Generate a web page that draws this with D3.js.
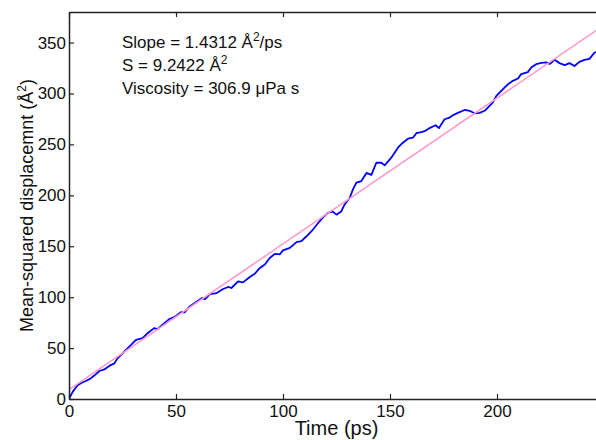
<!DOCTYPE html>
<html>
<head>
<meta charset="utf-8">
<script src="https://cdn.jsdelivr.net/npm/d3@7"></script>
<style>
  body { margin: 0; background: #fff; }
  svg { display: block; font-family: "Liberation Sans", Arial, Helvetica, sans-serif; }
</style>
</head>
<body>
<svg id="chart"></svg>
<script>
// time (ps) and MSD (A^2)
const timePs = [0, 1.7, 4, 6, 7.9, 10, 11.8, 14.2, 16.5, 18.8, 21.2, 22.7, 25.8, 28.9, 31.3, 34.4, 36.7, 39.8, 41.4, 43.7,
  46.8, 49.2, 52.3, 54, 56.2, 59.3, 62, 63.6, 65.8, 69, 72, 74.4, 75.9, 79, 81.3, 84.5, 86.8, 89.2, 91.5, 93.8,
  96.2, 98.5, 100, 103.2, 106.3, 108.6, 111, 114, 116.9, 119, 121, 123.3, 125, 127.3, 128.8, 131.2, 132.7, 134.3, 136.6, 139,
  141.3, 143.6, 146, 147.5, 150.6, 153.7, 156, 158.4, 160.7, 162.3, 164.6, 166.2, 168.5, 171.3, 172.9, 175.5, 177.5, 179.4, 181.7, 184.9,
  187.2, 189.5, 191.9, 194.2, 196.5, 198, 199.7, 202, 203.6, 205.1, 207.4, 209.8, 211.3, 214.4, 216, 218.3, 220.7, 223, 224.6, 226.9,
  229.2, 231.6, 233.9, 236.2, 238.5, 240.9, 243.2, 245.5, 248];
const msd = [0, 7, 13.5, 16, 17.7, 20, 23, 27.5, 29, 32.5, 35, 40, 46.5, 53, 58, 59.7, 64.6, 69.6, 68.6, 72.9,
  78.4, 80.4, 85.3, 85, 90.5, 95, 99, 98, 103, 104, 108, 110, 109, 115.5, 114.5, 119.8, 123, 128.7, 132, 138.5,
  142.5, 142, 146, 148.4, 154, 155, 159.8, 166.4, 174, 179, 182.7, 184, 181, 184.4, 191, 197.6, 205.8, 212.4, 214, 222,
  220, 232, 232, 229.4, 237, 246.8, 251.7, 255.6, 256.6, 261, 262, 263, 266, 268.8, 266, 274.7, 276, 278.6, 281, 283.8,
  283, 280.6, 281, 283, 287.8, 291, 297.6, 302.5, 306, 309, 312.4, 314.7, 319, 321, 325.5, 328.8, 330, 330.5, 329, 333,
  329.8, 327.8, 329.8, 327, 331, 333, 334, 340, 342];

const slope = 1.4312;
const intercept = 9.2422;
const viscosity = 306.9;

const xTicks = [0, 50, 100, 150, 200];
const yTicks = [0, 50, 100, 150, 200, 250, 300, 350];

const W = 596, H = 440;
const M = { left: 69, top: 12, right: 604, bottom: 399 };

const svg = d3.select("#chart").attr("width", W).attr("height", H);

const x = d3.scaleLinear().domain([0, 250]).range([M.left, M.right]);
const y = d3.scaleLinear().domain([0, 380]).range([M.bottom, M.top]);

svg.append("clipPath").attr("id", "clip")
  .append("rect")
  .attr("x", M.left).attr("y", M.top)
  .attr("width", M.right - M.left).attr("height", M.bottom - M.top);

const data = timePs.map((t, i) => ({ t: t, v: msd[i] }));

const line = d3.line().x(d => x(d.t)).y(d => y(d.v));

svg.append("path")
  .datum(data)
  .attr("clip-path", "url(#clip)")
  .attr("fill", "none")
  .attr("stroke", "#0000ff")
  .attr("stroke-width", 1.8)
  .attr("stroke-linejoin", "round")
  .attr("d", line);

// linear fit
const fit = [0, 250].map(t => ({ t: t, v: slope * t + intercept }));
svg.append("path")
  .datum(fit)
  .attr("clip-path", "url(#clip)")
  .attr("fill", "none")
  .attr("stroke", "#ff99cc")
  .attr("stroke-width", 1.5)
  .attr("d", line);

/* axes, matlab style box with inward ticks */
const axisColor = "#222";

svg.append("g")
  .attr("transform", `translate(0, ${M.bottom})`)
  .call(d3.axisBottom(x).tickValues(xTicks).tickSizeInner(-5).tickSizeOuter(0).tickPadding(6))
  .call(g => g.select(".domain").attr("stroke", axisColor).attr("stroke-width", 1.5))
  .call(g => g.selectAll(".tick line").attr("stroke", axisColor).attr("stroke-width", 1.2))
  .call(g => g.selectAll(".tick text").attr("font-size", 17).attr("fill", "#111").attr("font-family", null));

svg.append("g")
  .attr("transform", `translate(0, ${M.top})`)
  .call(d3.axisTop(x).tickValues(xTicks).tickSizeInner(-5).tickSizeOuter(0).tickFormat(""))
  .call(g => g.select(".domain").attr("stroke", axisColor).attr("stroke-width", 1.5))
  .call(g => g.selectAll(".tick line").attr("stroke", axisColor).attr("stroke-width", 1.2));

svg.append("g")
  .attr("transform", `translate(${M.left}, 0)`)
  .call(d3.axisLeft(y).tickValues(yTicks).tickSizeInner(-5).tickSizeOuter(0).tickPadding(3))
  .call(g => g.select(".domain").attr("stroke", axisColor).attr("stroke-width", 1.5))
  .call(g => g.selectAll(".tick line").attr("stroke", axisColor).attr("stroke-width", 1.2))
  .call(g => g.selectAll(".tick text").attr("font-size", 17).attr("fill", "#111").attr("font-family", null));

/* axis titles */
svg.append("text")
  .attr("x", (M.left + M.right) / 2)
  .attr("y", 435)
  .attr("text-anchor", "middle")
  .attr("font-size", 20)
  .attr("fill", "#111")
  .text("Time (ps)");

const yl = svg.append("text")
  .attr("transform", `translate(33, ${(M.top + M.bottom) / 2}) rotate(-90)`)
  .attr("text-anchor", "middle")
  .attr("font-size", 18)
  .attr("fill", "#111");
yl.append("tspan").text("Mean-squared displacemnt (Å");
yl.append("tspan").attr("dy", -7).attr("font-size", 12).text("2");
yl.append("tspan").attr("dy", 7).text(")");

/* annotation */
const notes = svg.append("g").attr("font-size", 17).attr("fill", "#111");
const n1 = notes.append("text").attr("x", 122).attr("y", 48);
n1.append("tspan").text(`Slope = ${slope} Å`);
n1.append("tspan").attr("dy", -7).attr("font-size", 12).text("2");
n1.append("tspan").attr("dy", 7).text("/ps");

const n2 = notes.append("text").attr("x", 122).attr("y", 71);
n2.append("tspan").text(`S = ${intercept} Å`);
n2.append("tspan").attr("dy", -7).attr("font-size", 12).text("2");

notes.append("text").attr("x", 122).attr("y", 94)
  .text(`Viscosity = ${viscosity} μPa s`);
</script>
</body>
</html>
